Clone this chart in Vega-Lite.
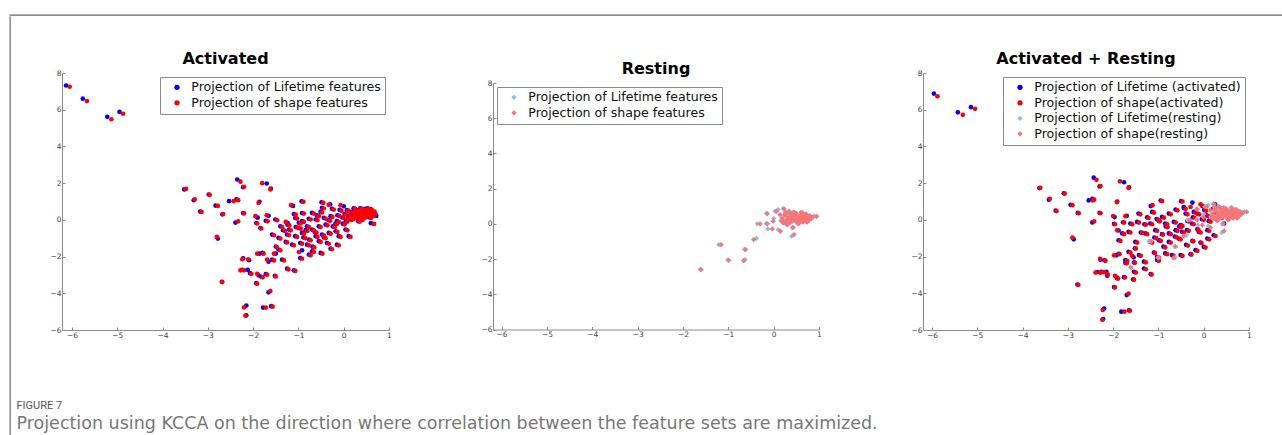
{
"$schema": "https://vega.github.io/schema/vega-lite/v6.json",
"padding": {"left": 9, "top": 14, "right": 0, "bottom": 0},
"background": "white",
"config": {
  "font": "DejaVu Sans",
  "view": {"stroke": null},
  "axis": {"grid": false, "domainColor": "#8a8a8a", "tickColor": "#8a8a8a", "tickSize": -3, "tickCount": 20, "format": "d", "labelFont": "DejaVu Sans", "labelFontSize": 7.5, "labelColor": "#444", "labelPadding": 4, "labelFlush": false, "labelOverlap": false, "labelSeparation": 0},
  "legend": {"labelFont": "DejaVu Sans", "labelFontSize": 12.6, "labelColor": "#111", "strokeColor": "#8a8a8a", "fillColor": "#ffffff", "padding": 4, "rowPadding": 2.5, "symbolOffset": 6.7, "labelOffset": 8, "symbolSize": 28, "offset": 4, "labelLimit": 400},
  "title": {"font": "DejaVu Sans", "fontSize": 16, "fontWeight": "bold", "color": "#000", "offset": 2, "anchor": "middle"}
},
"datasets": {
"a1": [
{"xb":-6.13,"yb":7.32,"xr":-6.05,"yr":7.25},{"xb":-5.76,"yb":6.6,"xr":-5.67,"yr":6.47},{"xb":-5.22,"yb":5.61,"xr":-5.13,"yr":5.48},{"xb":-4.95,"yb":5.88,"xr":-4.87,"yr":5.78},
{"xb":-3.52,"yb":1.66,"xr":-3.48,"yr":1.69},{"xb":-3.31,"yb":1.07,"xr":-3.29,"yr":1.12},{"xb":-3.17,"yb":0.45,"xr":-3.14,"yr":0.43},{"xb":-2.98,"yb":1.38,"xr":-2.96,"yr":1.36},
{"xb":-2.83,"yb":0.78,"xr":-2.78,"yr":0.76},{"xb":-2.68,"yb":0.3,"xr":-2.66,"yr":0.32},{"xb":-2.78,"yb":-1.02,"xr":-2.8,"yr":-0.93},{"xb":-2.69,"yb":-3.37,"xr":-2.68,"yr":-3.39},
{"xb":-2.53,"yb":1.02,"xr":-2.43,"yr":1.02},{"xb":-2.37,"yb":1.12,"xr":-2.33,"yr":1.07},{"xb":-2.39,"yb":-0.15,"xr":-2.33,"yr":-0.08},{"xb":-2.35,"yb":2.2,"xr":-2.28,"yr":2.08},
{"xb":-2.22,"yb":1.78,"xr":-2.2,"yr":1.8},{"xb":-2.22,"yb":0.37,"xr":-2.2,"yr":0.35},{"xb":-2.22,"yb":-2.1,"xr":-2.24,"yr":-2.15},{"xb":-2.24,"yb":-2.72,"xr":-2.28,"yr":-2.75},
{"xb":-2.12,"yb":-2.72,"xr":-2.2,"yr":-2.75},{"xb":-2.09,"yb":-2.2,"xr":-2.11,"yr":-2.15},{"xb":-2.07,"yb":-2.9,"xr":-2.04,"yr":-2.94},{"xb":-2.15,"yb":-4.67,"xr":-2.2,"yr":-4.77},
{"xb":-2.15,"yb":-5.2,"xr":-2.17,"yr":-5.22},{"xb":-1.9,"yb":0.12,"xr":-1.95,"yr":0.2},{"xb":-1.93,"yb":-0.17,"xr":-1.91,"yr":-0.2},{"xb":-1.86,"yb":0.98,"xr":-1.88,"yr":0.93},
{"xb":-1.7,"yb":1.98,"xr":-1.8,"yr":2.0},{"xb":-1.61,"yb":1.7,"xr":-1.62,"yr":1.66},{"xb":-1.84,"yb":-0.45,"xr":-1.82,"yr":-0.47},{"xb":-1.66,"yb":0.22,"xr":-1.7,"yr":0.25},
{"xb":-1.72,"yb":-0.05,"xr":-1.68,"yr":-0.08},{"xb":-1.86,"yb":-1.84,"xr":-1.91,"yr":-1.84},{"xb":-1.79,"yb":-1.8,"xr":-1.77,"yr":-1.84},{"xb":-1.88,"yb":-3.02,"xr":-1.91,"yr":-2.94},
{"xb":-1.82,"yb":-3.1,"xr":-1.79,"yr":-3.13},{"xb":-1.93,"yb":-3.45,"xr":-1.91,"yr":-3.48},{"xb":-1.66,"yb":-2.28,"xr":-1.69,"yr":-2.17},{"xb":-1.72,"yb":-2.96,"xr":-1.69,"yr":-2.99},
{"xb":-1.66,"yb":-3.95,"xr":-1.62,"yr":-3.88},{"xb":-1.78,"yb":-4.78,"xr":-1.72,"yr":-4.78},{"xb":-1.6,"yb":-4.7,"xr":-1.57,"yr":-4.73},{"xb":-1.52,"yb":-3.05,"xr":-1.5,"yr":-3.08},
{"xb":-1.5,"yb":-1.45,"xr":-1.48,"yr":-1.48},{"xb":-1.5,"yb":-1.84,"xr":-1.54,"yr":-1.84},
{"xb":-1.12,"yb":0.76,"xr":-1.16,"yr":0.8},{"xb":-0.93,"yb":1.01,"xr":-0.89,"yr":0.98},{"xb":-0.49,"yb":0.96,"xr":-0.45,"yr":0.93},{"xb":-0.3,"yb":0.85,"xr":-0.33,"yr":0.82},
{"xb":0.0,"yb":0.74,"xr":-0.07,"yr":0.8},{"xb":-0.48,"yb":0.66,"xr":-0.44,"yr":0.62},{"xb":-0.26,"yb":0.6,"xr":-0.22,"yr":0.56},{"xb":-1.1,"yb":0.32,"xr":-1.06,"yr":0.28},
{"xb":-0.92,"yb":0.37,"xr":-0.88,"yr":0.34},{"xb":-0.7,"yb":0.38,"xr":-0.66,"yr":0.34},{"xb":-0.51,"yb":0.43,"xr":-0.48,"yr":0.4},{"xb":-1.51,"yb":0.02,"xr":-1.47,"yr":-0.02},
{"xb":-1.24,"yb":-0.18,"xr":-1.28,"yr":-0.11},{"xb":-1.07,"yb":0.1,"xr":-1.03,"yr":0.07},{"xb":-0.92,"yb":-0.07,"xr":-0.88,"yr":-0.11},{"xb":-0.77,"yb":0.06,"xr":-0.73,"yr":0.02},
{"xb":-0.62,"yb":0.02,"xr":-0.58,"yr":-0.02},{"xb":-0.44,"yb":0.11,"xr":-0.4,"yr":0.07},{"xb":-0.29,"yb":0.2,"xr":-0.25,"yr":0.16},{"xb":-0.14,"yb":0.25,"xr":-0.1,"yr":0.22},
{"xb":-1.4,"yb":-0.35,"xr":-1.36,"yr":-0.39},{"xb":-1.21,"yb":-0.53,"xr":-1.17,"yr":-0.57},{"xb":-1.06,"yb":-0.39,"xr":-1.03,"yr":-0.42},{"xb":-0.99,"yb":-0.44,"xr":-0.95,"yr":-0.48},
{"xb":-0.81,"yb":-0.35,"xr":-0.77,"yr":-0.39},{"xb":-0.7,"yb":-0.53,"xr":-0.66,"yr":-0.57},{"xb":-0.55,"yb":-0.35,"xr":-0.51,"yr":-0.39},{"xb":-0.4,"yb":-0.26,"xr":-0.36,"yr":-0.3},
{"xb":-0.18,"yb":-0.2,"xr":-0.15,"yr":-0.23},{"xb":-0.15,"yb":-0.07,"xr":-0.11,"yr":-0.11},{"xb":-1.58,"yb":-0.8,"xr":-1.54,"yr":-0.84},{"xb":-1.44,"yb":-0.98,"xr":-1.4,"yr":-1.02},
{"xb":-1.25,"yb":-0.8,"xr":-1.21,"yr":-0.84},{"xb":-1.07,"yb":-0.89,"xr":-1.03,"yr":-0.93},{"xb":-0.92,"yb":-0.71,"xr":-0.88,"yr":-0.75},{"xb":-0.77,"yb":-1.07,"xr":-0.73,"yr":-1.11},
{"xb":-0.62,"yb":-0.89,"xr":-0.58,"yr":-0.93},{"xb":-0.48,"yb":-0.8,"xr":-0.44,"yr":-0.84},{"xb":-0.33,"yb":-0.71,"xr":-0.29,"yr":-0.75},{"xb":-0.18,"yb":-0.62,"xr":-0.14,"yr":-0.66},
{"xb":0.04,"yb":-0.53,"xr":0.08,"yr":-0.57},{"xb":-1.28,"yb":-1.2,"xr":-1.25,"yr":-1.23},{"xb":-1.14,"yb":-1.35,"xr":-1.1,"yr":-1.39},{"xb":-0.96,"yb":-1.26,"xr":-0.92,"yr":-1.3},
{"xb":-0.81,"yb":-1.35,"xr":-0.77,"yr":-1.39},{"xb":-0.55,"yb":-1.16,"xr":-0.51,"yr":-1.2},{"xb":-0.37,"yb":-1.26,"xr":-0.33,"yr":-1.3},{"xb":-0.11,"yb":-0.89,"xr":-0.07,"yr":-0.93},
{"xb":0.11,"yb":-0.89,"xr":0.15,"yr":-0.93},{"xb":-1.44,"yb":-1.62,"xr":-1.4,"yr":-1.66},{"xb":-0.92,"yb":-1.66,"xr":-0.99,"yr":-1.75},{"xb":-0.7,"yb":-1.71,"xr":-0.66,"yr":-1.75},
{"xb":-0.51,"yb":-1.8,"xr":-0.47,"yr":-1.84},{"xb":-0.29,"yb":-1.57,"xr":-0.26,"yr":-1.6},{"xb":-0.15,"yb":-1.35,"xr":-0.11,"yr":-1.39},{"xb":-1.36,"yb":-2.17,"xr":-1.32,"yr":-2.21},
{"xb":-0.96,"yb":-2.08,"xr":-0.92,"yr":-2.12},{"xb":-0.77,"yb":-1.89,"xr":-0.73,"yr":-1.93},{"xb":-1.25,"yb":-2.66,"xr":-1.22,"yr":-2.7},{"xb":-1.1,"yb":-2.75,"xr":-1.07,"yr":-2.78},
{"xb":-1.58,"yb":-2.17,"xr":-1.54,"yr":-2.21},{"xb":-1.24,"yb":-0.26,"xr":-1.2,"yr":-0.3},{"xb":-0.84,"yb":-0.56,"xr":-0.8,"yr":-0.6},{"xb":-0.64,"yb":-0.66,"xr":-0.6,"yr":-0.7},
{"xb":-0.89,"yb":-0.96,"xr":-0.85,"yr":-1.0},{"xb":-0.69,"yb":-1.46,"xr":-0.65,"yr":-1.5},{"xb":-0.44,"yb":-0.96,"xr":-0.4,"yr":-1.0},{"xb":-0.24,"yb":-0.36,"xr":-0.2,"yr":-0.4},
{"xb":-1.34,"yb":-0.56,"xr":-1.3,"yr":-0.6},{"xb":-0.99,"yb":-0.16,"xr":-0.95,"yr":-0.2},{"xb":-0.34,"yb":-0.01,"xr":-0.3,"yr":-0.05},{"xb":-0.59,"yb":0.24,"xr":-0.55,"yr":0.2},
{"xb":-0.09,"yb":0.54,"xr":-0.05,"yr":0.5},{"xb":-0.02,"yb":-0.21,"xr":0.02,"yr":-0.25},
{"xb":0.02,"yb":0.33,"xr":0.05,"yr":0.3},{"xb":0.07,"yb":0.53,"xr":0.1,"yr":0.5},{"xb":0.12,"yb":0.23,"xr":0.15,"yr":0.2},{"xb":0.17,"yb":0.43,"xr":0.2,"yr":0.4},
{"xb":0.19,"yb":0.08,"xr":0.22,"yr":0.05},{"xb":0.22,"yb":0.63,"xr":0.25,"yr":0.6},{"xb":0.27,"yb":0.33,"xr":0.3,"yr":0.3},{"xb":0.29,"yb":0.13,"xr":0.32,"yr":0.1},
{"xb":0.32,"yb":0.53,"xr":0.35,"yr":0.5},{"xb":0.35,"yb":0.23,"xr":0.38,"yr":0.2},{"xb":0.37,"yb":0.43,"xr":0.4,"yr":0.4},{"xb":0.39,"yb":0.03,"xr":0.42,"yr":0.0},
{"xb":0.42,"yb":0.33,"xr":0.45,"yr":0.3},{"xb":0.45,"yb":0.58,"xr":0.48,"yr":0.55},{"xb":0.47,"yb":0.18,"xr":0.5,"yr":0.15},{"xb":0.49,"yb":0.43,"xr":0.52,"yr":0.4},
{"xb":0.52,"yb":0.28,"xr":0.55,"yr":0.25},{"xb":0.55,"yb":0.53,"xr":0.58,"yr":0.5},{"xb":0.57,"yb":0.13,"xr":0.6,"yr":0.1},{"xb":0.59,"yb":0.38,"xr":0.62,"yr":0.35},
{"xb":0.62,"yb":0.23,"xr":0.65,"yr":0.2},{"xb":0.7,"yb":0.3,"xr":0.68,"yr":0.45},{"xb":0.72,"yb":0.22,"xr":0.7,"yr":0.3},{"xb":0.25,"yb":0.48,"xr":0.28,"yr":0.45},
{"xb":0.15,"yb":0.03,"xr":0.18,"yr":0.0},{"xb":0.32,"yb":-0.07,"xr":0.35,"yr":-0.1},{"xb":0.09,"yb":0.13,"xr":0.12,"yr":0.1},{"xb":0.42,"yb":0.13,"xr":0.45,"yr":0.1},
{"xb":0.52,"yb":0.63,"xr":0.55,"yr":0.6},{"xb":0.59,"yb":0.58,"xr":0.62,"yr":0.55},{"xb":0.6,"yb":-0.18,"xr":0.67,"yr":-0.22},{"xb":-0.03,"yb":0.13,"xr":0.0,"yr":0.1},
{"xb":0.05,"yb":-0.07,"xr":0.08,"yr":-0.1},{"xb":0.22,"yb":0.28,"xr":0.25,"yr":0.25},{"xb":0.37,"yb":0.63,"xr":0.4,"yr":0.6}
],
"a3": [
{"xb":-5.96,"yb":6.88,"xr":-5.88,"yr":6.73},{"xb":-5.43,"yb":5.86,"xr":-5.32,"yr":5.72},{"xb":-5.14,"yb":6.14,"xr":-5.05,"yr":6.05},
{"xb":-3.63,"yb":1.73,"xr":-3.61,"yr":1.75},{"xb":-3.42,"yb":1.1,"xr":-3.4,"yr":1.15},{"xb":-3.27,"yb":0.5,"xr":-3.25,"yr":0.48},{"xb":-3.09,"yb":1.45,"xr":-3.07,"yr":1.43},
{"xb":-2.94,"yb":0.82,"xr":-2.9,"yr":0.8},{"xb":-2.78,"yb":0.38,"xr":-2.76,"yr":0.36},{"xb":-2.87,"yb":-1.06,"xr":-2.9,"yr":-0.97},{"xb":-2.79,"yb":-3.52,"xr":-2.77,"yr":-3.54},
{"xb":-2.54,"yb":1.06,"xr":-2.45,"yr":1.06},{"xb":-2.46,"yb":1.15,"xr":-2.42,"yr":1.1},{"xb":-2.46,"yb":-0.14,"xr":-2.42,"yr":-0.08},{"xb":-2.43,"yb":2.3,"xr":-2.37,"yr":2.18},
{"xb":-2.3,"yb":1.82,"xr":-2.28,"yr":1.84},{"xb":-2.3,"yb":0.38,"xr":-2.28,"yr":0.36},{"xb":-2.28,"yb":-2.17,"xr":-2.29,"yr":-2.12},{"xb":-2.35,"yb":-2.84,"xr":-2.39,"yr":-2.87},
{"xb":-2.26,"yb":-2.83,"xr":-2.28,"yr":-2.87},{"xb":-2.15,"yb":-2.83,"xr":-2.2,"yr":-2.85},{"xb":-2.19,"yb":-2.2,"xr":-2.17,"yr":-2.23},{"xb":-2.13,"yb":-3.05,"xr":-2.12,"yr":-2.98},
{"xb":-2.2,"yb":-4.83,"xr":-2.23,"yr":-4.91},{"xb":-2.22,"yb":-5.4,"xr":-2.24,"yr":-5.44},{"xb":-1.97,"yb":0.15,"xr":-2.0,"yr":0.21},{"xb":-1.98,"yb":-0.22,"xr":-1.96,"yr":-0.24},
{"xb":-1.91,"yb":1.0,"xr":-1.92,"yr":0.97},{"xb":-1.76,"yb":2.05,"xr":-1.85,"yr":2.1},{"xb":-1.65,"yb":1.77,"xr":-1.66,"yr":1.74},{"xb":-1.88,"yb":-0.58,"xr":-1.91,"yr":-0.56},
{"xb":-1.7,"yb":0.22,"xr":-1.73,"yr":0.2},{"xb":-1.78,"yb":-0.13,"xr":-1.76,"yr":-0.15},{"xb":-1.93,"yb":-1.93,"xr":-1.98,"yr":-1.93},{"xb":-1.88,"yb":-1.85,"xr":-1.86,"yr":-1.87},
{"xb":-1.92,"yb":-3.15,"xr":-1.96,"yr":-3.05},{"xb":-1.91,"yb":-3.18,"xr":-1.89,"yr":-3.2},{"xb":-1.98,"yb":-3.66,"xr":-1.96,"yr":-3.68},{"xb":-1.73,"yb":-2.34,"xr":-1.7,"yr":-2.37},
{"xb":-1.76,"yb":-3.12,"xr":-1.74,"yr":-3.14},{"xb":-1.7,"yb":-4.1,"xr":-1.66,"yr":-4.02},{"xb":-1.82,"yb":-5.0,"xr":-1.75,"yr":-5.0},{"xb":-1.65,"yb":-4.93,"xr":-1.63,"yr":-4.95},
{"xb":-1.56,"yb":-3.24,"xr":-1.54,"yr":-3.26},{"xb":-1.52,"yb":-1.55,"xr":-1.5,"yr":-1.57},{"xb":-1.55,"yb":-2.04,"xr":-1.58,"yr":-1.96},
{"xb":-0.95,"yb":1.05,"xr":-0.92,"yr":1.02},{"xb":-1.17,"yb":0.75,"xr":-1.13,"yr":0.8},{"xb":-0.5,"yb":1.02,"xr":-0.47,"yr":1.0},{"xb":-0.44,"yb":0.7,"xr":-0.29,"yr":0.7},
{"xb":-0.25,"yb":0.94,"xr":-0.07,"yr":0.85},{"xb":-0.03,"yb":0.76,"xr":0.0,"yr":0.72},{"xb":-1.44,"yb":0.34,"xr":-1.4,"yr":0.3},{"xb":-1.25,"yb":0.14,"xr":-1.22,"yr":0.1},
{"xb":-1.14,"yb":0.43,"xr":-1.1,"yr":0.39},{"xb":-0.92,"yb":0.16,"xr":-0.88,"yr":0.12},{"xb":-0.77,"yb":0.34,"xr":-0.73,"yr":0.3},{"xb":-0.62,"yb":0.56,"xr":-0.58,"yr":0.52},
{"xb":-0.4,"yb":0.34,"xr":-0.36,"yr":0.3},{"xb":-0.22,"yb":0.43,"xr":-0.18,"yr":0.39},{"xb":-1.62,"yb":-0.2,"xr":-1.58,"yr":-0.24},{"xb":-1.47,"yb":-0.11,"xr":-1.43,"yr":-0.15},
{"xb":-1.31,"yb":-0.24,"xr":-1.28,"yr":-0.26},{"xb":-1.18,"yb":-0.2,"xr":-1.14,"yr":-0.24},{"xb":-0.99,"yb":-0.06,"xr":-0.97,"yr":-0.08},{"xb":-0.85,"yb":-0.2,"xr":-0.81,"yr":-0.24},
{"xb":-0.66,"yb":-0.11,"xr":-0.62,"yr":-0.15},{"xb":-0.51,"yb":-0.29,"xr":-0.47,"yr":-0.33},{"xb":-0.36,"yb":-0.06,"xr":-0.33,"yr":-0.08},{"xb":-0.26,"yb":-0.2,"xr":-0.22,"yr":-0.24},
{"xb":-1.8,"yb":-0.74,"xr":-1.76,"yr":-0.78},{"xb":-1.66,"yb":-0.65,"xr":-1.62,"yr":-0.69},{"xb":-1.39,"yb":-0.69,"xr":-1.36,"yr":-0.71},{"xb":-1.29,"yb":-0.74,"xr":-1.25,"yr":-0.78},
{"xb":-1.07,"yb":-0.56,"xr":-1.03,"yr":-0.6},{"xb":-0.92,"yb":-0.78,"xr":-0.9,"yr":-0.8},{"xb":-0.77,"yb":-0.74,"xr":-0.73,"yr":-0.78},{"xb":-0.62,"yb":-0.56,"xr":-0.58,"yr":-0.6},
{"xb":-0.48,"yb":-0.65,"xr":-0.44,"yr":-0.69},{"xb":-0.37,"yb":-0.56,"xr":-0.33,"yr":-0.6},{"xb":-0.14,"yb":-0.51,"xr":-0.12,"yr":-0.53},{"xb":-0.11,"yb":-0.65,"xr":-0.07,"yr":-0.69},
{"xb":0.08,"yb":-0.56,"xr":0.12,"yr":-0.6},{"xb":-1.88,"yb":-1.11,"xr":-1.84,"yr":-1.15},{"xb":-1.51,"yb":-1.2,"xr":-1.47,"yr":-1.24},{"xb":-1.18,"yb":-1.2,"xr":-1.14,"yr":-1.24},
{"xb":-0.99,"yb":-1.11,"xr":-0.95,"yr":-1.15},{"xb":-0.77,"yb":-1.2,"xr":-0.73,"yr":-1.24},{"xb":-0.55,"yb":-1.02,"xr":-0.51,"yr":-1.06},{"xb":-0.25,"yb":-1.15,"xr":-0.23,"yr":-1.17},
{"xb":-0.07,"yb":-1.24,"xr":-0.05,"yr":-1.26},{"xb":0.08,"yb":-1.02,"xr":0.12,"yr":-1.06},{"xb":0.22,"yb":-0.84,"xr":0.26,"yr":-0.88},{"xb":-1.66,"yb":-1.74,"xr":-1.62,"yr":-1.78},
{"xb":-1.43,"yb":-1.92,"xr":-1.39,"yr":-1.96},{"xb":-1.1,"yb":-1.78,"xr":-1.08,"yr":-1.8},{"xb":-1.03,"yb":-2.01,"xr":-0.99,"yr":-2.05},{"xb":-0.85,"yb":-1.83,"xr":-0.81,"yr":-1.87},
{"xb":-0.7,"yb":-1.92,"xr":-0.66,"yr":-1.96},{"xb":-0.51,"yb":-1.92,"xr":-0.47,"yr":-1.96},{"xb":-0.29,"yb":-1.87,"xr":-0.27,"yr":-1.89},{"xb":-0.18,"yb":-1.65,"xr":-0.14,"yr":-1.69},
{"xb":0.0,"yb":-1.47,"xr":0.04,"yr":-1.51},{"xb":-1.73,"yb":-2.19,"xr":-1.69,"yr":-2.23},{"xb":-1.54,"yb":-2.32,"xr":-1.52,"yr":-2.34},{"xb":-1.32,"yb":-2.28,"xr":-1.28,"yr":-2.32},
{"xb":-1.03,"yb":-2.19,"xr":-0.99,"yr":-2.23},{"xb":-1.54,"yb":-2.83,"xr":-1.5,"yr":-2.87},{"xb":-1.17,"yb":-2.96,"xr":-1.15,"yr":-2.98},{"xb":-1.32,"yb":-2.65,"xr":-1.28,"yr":-2.69},
{"xb":-1.04,"yb":0.04,"xr":-1.0,"yr":0.0},{"xb":-0.54,"yb":-0.36,"xr":-0.5,"yr":-0.4},{"xb":-0.84,"yb":-0.36,"xr":-0.8,"yr":-0.4},{"xb":-0.64,"yb":-0.91,"xr":-0.6,"yr":-0.95},
{"xb":-0.39,"yb":-1.36,"xr":-0.35,"yr":-1.4},{"xb":-0.89,"yb":-1.46,"xr":-0.85,"yr":-1.5},{"xb":-1.09,"yb":-0.96,"xr":-1.05,"yr":-1.0},{"xb":-0.24,"yb":0.14,"xr":-0.2,"yr":0.1},
{"xb":-0.44,"yb":0.64,"xr":-0.4,"yr":0.6},{"xb":-0.14,"yb":0.34,"xr":-0.1,"yr":0.3},{"xb":0.01,"yb":0.54,"xr":0.05,"yr":0.5},{"xb":0.06,"yb":0.24,"xr":0.1,"yr":0.2},
{"xb":0.11,"yb":-0.06,"xr":0.15,"yr":-0.1},{"xb":0.25,"yb":0.85,"xr":0.2,"yr":0.6},{"xb":0.26,"yb":0.39,"xr":0.3,"yr":0.35},{"xb":0.45,"yb":-0.2,"xr":0.4,"yr":0.1},
{"xb":-0.04,"yb":0.04,"xr":0.0,"yr":0.0},{"xb":0.48,"yb":0.55,"xr":0.5,"yr":0.5}
],
"r": [
{"xl":-1.62,"yl":-2.58,"xp":-1.6,"yp":-2.6},{"xl":-1.21,"yl":-1.18,"xp":-1.16,"yp":-1.18},{"xl":-1.01,"yl":-2.05,"xp":-0.99,"yp":-2.07},{"xl":-0.63,"yl":-2.03,"xp":-0.66,"yp":-2.09},
{"xl":-0.64,"yl":-1.44,"xp":-0.62,"yp":-1.46},{"xl":-0.38,"yl":-0.83,"xp":-0.44,"yp":-0.89},{"xl":-0.36,"yl":0.0,"xp":-0.3,"yp":0.0},{"xl":-0.16,"yl":0.02,"xp":-0.14,"yp":0.0},
{"xl":-0.13,"yl":-0.29,"xp":-0.03,"yp":-0.29},{"xl":-0.16,"yl":0.6,"xp":-0.14,"yp":0.58},{"xl":0.0,"yl":0.3,"xp":-0.01,"yp":0.15},{"xl":0.03,"yl":0.72,"xp":0.06,"yp":0.71},
{"xl":0.1,"yl":0.81,"xp":0.14,"yp":0.52},{"xl":0.21,"yl":0.87,"xp":0.23,"yp":0.85},{"xl":0.1,"yl":-0.33,"xp":0.15,"yp":-0.42},{"xl":0.4,"yl":-0.7,"xp":0.45,"yp":-0.61},
{"xl":0.41,"yl":-0.23,"xp":0.43,"yp":-0.2},{"xl":0.9,"yl":0.45,"xp":0.95,"yp":0.43},
{"xl":0.18,"yl":0.32,"xp":0.2,"yp":0.3},{"xl":0.23,"yl":0.52,"xp":0.25,"yp":0.5},{"xl":0.26,"yl":0.17,"xp":0.28,"yp":0.15},{"xl":0.33,"yl":0.6,"xp":0.3,"yp":0.4},
{"xl":0.31,"yl":0.27,"xp":0.33,"yp":0.25},{"xl":0.33,"yl":0.07,"xp":0.35,"yp":0.05},{"xl":0.36,"yl":0.57,"xp":0.38,"yp":0.55},{"xl":0.38,"yl":0.37,"xp":0.4,"yp":0.35},
{"xl":0.4,"yl":0.17,"xp":0.42,"yp":0.15},{"xl":0.43,"yl":0.47,"xp":0.45,"yp":0.45},{"xl":0.46,"yl":0.27,"xp":0.48,"yp":0.25},{"xl":0.48,"yl":0.62,"xp":0.5,"yp":0.6},
{"xl":0.5,"yl":0.12,"xp":0.52,"yp":0.1},{"xl":0.53,"yl":0.37,"xp":0.55,"yp":0.35},{"xl":0.56,"yl":0.22,"xp":0.58,"yp":0.2},{"xl":0.58,"yl":0.52,"xp":0.6,"yp":0.5},
{"xl":0.6,"yl":0.32,"xp":0.62,"yp":0.3},{"xl":0.63,"yl":0.12,"xp":0.65,"yp":0.1},{"xl":0.66,"yl":0.42,"xp":0.68,"yp":0.4},{"xl":0.68,"yl":0.27,"xp":0.7,"yp":0.25},
{"xl":0.7,"yl":0.57,"xp":0.72,"yp":0.55},{"xl":0.73,"yl":0.37,"xp":0.75,"yp":0.35},{"xl":0.76,"yl":0.22,"xp":0.78,"yp":0.2},{"xl":0.78,"yl":0.47,"xp":0.8,"yp":0.45},
{"xl":0.81,"yl":0.32,"xp":0.83,"yp":0.3},{"xl":0.84,"yl":0.4,"xp":0.86,"yp":0.38},{"xl":0.2,"yl":0.07,"xp":0.22,"yp":0.05},{"xl":0.25,"yl":0.67,"xp":0.27,"yp":0.65},
{"xl":0.33,"yl":0.72,"xp":0.35,"yp":0.7},{"xl":0.43,"yl":0.67,"xp":0.45,"yp":0.65},{"xl":0.53,"yl":0.02,"xp":0.55,"yp":0.0},{"xl":0.6,"yl":0.67,"xp":0.62,"yp":0.65},
{"xl":0.72,"yl":0.12,"xp":0.74,"yp":0.1},{"xl":0.28,"yl":-0.03,"xp":0.3,"yp":-0.05},{"xl":0.16,"yl":0.17,"xp":0.18,"yp":0.15},{"xl":0.38,"yl":0.52,"xp":0.4,"yp":0.5},
{"xl":0.48,"yl":0.42,"xp":0.5,"yp":0.4},{"xl":0.58,"yl":0.17,"xp":0.6,"yp":0.15},{"xl":0.64,"yl":0.57,"xp":0.66,"yp":0.55}
]
},
"spacing": 0,
"vconcat": [
  {"data": {"values": []}, "mark": {"type": "rule"}, "encoding": {}, "width": 1273, "height": 0.01, "view": {"stroke": "#666", "strokeWidth": 1.3}},
  {"spacing": 5, "hconcat": [
    {"data": {"values": []}, "mark": {"type": "rule"}, "encoding": {}, "width": 0.01, "height": 421, "view": {"stroke": "#777", "strokeWidth": 1.3}},
    {"spacing": 33,
     "title": {"text": "FIGURE 7", "subtitle": "Projection using KCCA on the direction where correlation between the feature sets are maximized.", "orient": "bottom", "anchor": "start", "frame": "group", "offset": 61, "dx": -45.5, "font": "Roboto", "fontSize": 11, "fontWeight": "normal", "color": "#555", "subtitleFont": "DejaVu Sans", "subtitleFontSize": 17.5, "subtitleColor": "#777", "subtitlePadding": 4},
     "vconcat": [
      {"data": {"values": []}, "mark": {"type": "rule"}, "encoding": {}, "width": 1, "height": 1},
      {"spacing": 88,
       "resolve": {"scale": {"x": "independent", "y": "independent", "color": "independent", "shape": "independent"}},
       "hconcat": [
        {"width": 327, "height": 257, "title": "Activated", "data": {"name": "a1"},
         "layer": [
          {"mark": {"type": "point", "filled": true, "shape": "circle", "size": 22, "opacity": 1},
           "encoding": {
            "x": {"field": "xb", "type": "quantitative", "title": null, "scale": {"domain": [-6.22, 1], "nice": false, "zero": false}, "axis": {"values": [-6, -5, -4, -3, -2, -1, 0, 1], "labelOverlap": false, "tickCount": 20, "format": "d"}},
            "y": {"field": "yb", "type": "quantitative", "title": null, "scale": {"domain": [-6, 8], "nice": false, "zero": false}, "axis": {"values": [-6, -4, -2, 0, 2, 4, 6, 8], "labelOverlap": false, "tickCount": 20, "format": "d"}},
            "color": {"datum": "Projection of Lifetime features", "type": "nominal", "scale": {"domain": ["Projection of Lifetime features", "Projection of shape features"], "range": ["#0000ff", "#ff0000"]}, "legend": {"title": null, "orient": "top-right"}}}},
          {"mark": {"type": "point", "filled": true, "shape": "circle", "size": 22, "opacity": 1},
           "encoding": {
            "x": {"field": "xr", "type": "quantitative", "title": null},
            "y": {"field": "yr", "type": "quantitative", "title": null},
            "color": {"datum": "Projection of shape features", "type": "nominal"}}}
         ]},
        {"spacing": -13,
         "resolve": {"scale": {"x": "independent", "y": "independent", "color": "independent"}},
         "vconcat": [
          {"data": {"values": []}, "mark": {"type": "rule"}, "encoding": {}, "width": 1, "height": 1},
          {"width": 326, "height": 246.5, "title": "Resting", "data": {"name": "r"},
           "layer": [
            {"mark": {"type": "point", "filled": true, "shape": "diamond", "size": 28, "opacity": 1},
             "encoding": {
              "x": {"field": "xl", "type": "quantitative", "title": null, "scale": {"domain": [-6.19, 1], "nice": false, "zero": false}, "axis": {"values": [-6, -5, -4, -3, -2, -1, 0, 1], "labelOverlap": false, "tickCount": 20, "format": "d"}},
              "y": {"field": "yl", "type": "quantitative", "title": null, "scale": {"domain": [-6, 8], "nice": false, "zero": false}, "axis": {"values": [-6, -4, -2, 0, 2, 4, 6, 8], "labelOverlap": false, "tickCount": 20, "format": "d"}},
              "color": {"datum": "Projection of Lifetime features", "type": "nominal", "scale": {"domain": ["Projection of Lifetime features", "Projection of shape features"], "range": ["#7fc1f5", "#f97474"]}, "legend": {"title": null, "orient": "top-left"}}}},
            {"mark": {"type": "point", "filled": true, "shape": "diamond", "size": 28, "opacity": 1},
             "encoding": {
              "x": {"field": "xp", "type": "quantitative", "title": null},
              "y": {"field": "yp", "type": "quantitative", "title": null},
              "color": {"datum": "Projection of shape features", "type": "nominal"}}}
           ]}
         ]},
        {"width": 326, "height": 257, "title": "Activated + Resting",
         "layer": [
          {"data": {"name": "a3"}, "mark": {"type": "point", "filled": true, "size": 22, "opacity": 1},
           "encoding": {
            "x": {"field": "xb", "type": "quantitative", "title": null, "scale": {"domain": [-6.2, 1], "nice": false, "zero": false}, "axis": {"values": [-6, -5, -4, -3, -2, -1, 0, 1], "labelOverlap": false, "tickCount": 20, "format": "d"}},
            "y": {"field": "yb", "type": "quantitative", "title": null, "scale": {"domain": [-6, 8], "nice": false, "zero": false}, "axis": {"values": [-6, -4, -2, 0, 2, 4, 6, 8], "labelOverlap": false, "tickCount": 20, "format": "d"}},
            "color": {"datum": "Projection of Lifetime (activated)", "type": "nominal", "scale": {"domain": ["Projection of Lifetime (activated)", "Projection of shape(activated)", "Projection of Lifetime(resting)", "Projection of shape(resting)"], "range": ["#0000ff", "#ff0000", "#7fc1f5", "#f97474"]}, "legend": {"title": null, "orient": "top-right"}},
            "shape": {"datum": "Projection of Lifetime (activated)", "type": "nominal", "scale": {"domain": ["Projection of Lifetime (activated)", "Projection of shape(activated)", "Projection of Lifetime(resting)", "Projection of shape(resting)"], "range": ["circle", "circle", "diamond", "diamond"]}, "legend": {"title": null, "orient": "top-right"}}}},
          {"data": {"name": "a3"}, "mark": {"type": "point", "filled": true, "size": 22, "opacity": 1},
           "encoding": {
            "x": {"field": "xr", "type": "quantitative", "title": null},
            "y": {"field": "yr", "type": "quantitative", "title": null},
            "color": {"datum": "Projection of shape(activated)", "type": "nominal"},
            "shape": {"datum": "Projection of shape(activated)", "type": "nominal"}}},
          {"data": {"name": "r"}, "mark": {"type": "point", "filled": true, "size": 28, "opacity": 1},
           "encoding": {
            "x": {"field": "xl", "type": "quantitative", "title": null},
            "y": {"field": "yl", "type": "quantitative", "title": null},
            "color": {"datum": "Projection of Lifetime(resting)", "type": "nominal"},
            "shape": {"datum": "Projection of Lifetime(resting)", "type": "nominal"}}},
          {"data": {"name": "r"}, "mark": {"type": "point", "filled": true, "size": 28, "opacity": 1},
           "encoding": {
            "x": {"field": "xp", "type": "quantitative", "title": null},
            "y": {"field": "yp", "type": "quantitative", "title": null},
            "color": {"datum": "Projection of shape(resting)", "type": "nominal"},
            "shape": {"datum": "Projection of shape(resting)", "type": "nominal"}}}
         ]}
       ]}
     ]}
  ]}
]
}
